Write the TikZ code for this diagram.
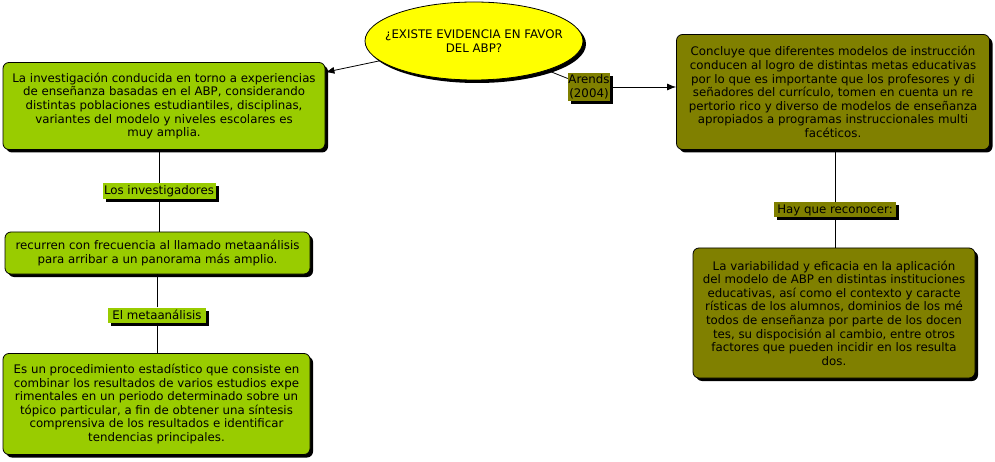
\documentclass[tikz,border=0pt]{standalone}
\usepackage{fontspec}
\setmainfont{DejaVu Sans}
\usetikzlibrary{arrows.meta,shapes.geometric,shadows}
\definecolor{limegreen}{HTML}{99CC00}
\definecolor{olivebrown}{HTML}{808000}
\definecolor{lemon}{HTML}{FFFF00}

\begin{document}
\begin{tikzpicture}[x=1pt, y=-1pt,
  shade/.style={drop shadow={shadow xshift=3pt, shadow yshift=-3pt, fill=black, opacity=1}},
  box/.style={draw, line width=0.8pt, rounded corners=6pt, align=center, inner sep=0pt, font=\fontsize{11.8}{13.6}\selectfont, shade},
  tag/.style={inner sep=0pt, align=center, font=\fontsize{11.8}{13.6}\selectfont, shade},
  arr/.style={-{Latex[length=9pt,width=7pt]}, line width=0.8pt},
  link/.style={line width=0.8pt}
]
\useasboundingbox (0,0) rectangle (995,462);

% question
\node[ellipse, draw, line width=0.8pt, fill=lemon, minimum width=218pt, minimum height=78pt, inner sep=0pt, shade,
  label={[align=center, font=\fontsize{11.8}{13.6}\selectfont]center:¿EXISTE EVIDENCIA EN FAVOR\\DEL ABP?}] (q) at (474,41) {};

% left column
\node[box, fill=limegreen, minimum width=322pt, minimum height=87pt] (inv) at (164,106) {La investigación conducida en torno a experiencias\\de enseñanza basadas en el ABP, considerando\\distintas poblaciones estudiantiles, disciplinas,\\variantes del modelo y niveles escolares es\\muy amplia.};
\node[tag, fill=limegreen, minimum width=113pt, minimum height=16pt] (invtag) at (159,191) {Los investigadores};
\node[box, fill=limegreen, minimum width=305pt, minimum height=42pt] (recur) at (157.5,253) {recurren con frecuencia al llamado metaanálisis\\para arribar a un panorama más amplio.};
\node[tag, fill=limegreen, minimum width=98pt, minimum height=15pt] (metatag) at (157,315) {El metaanálisis};
\node[box, fill=limegreen, minimum width=307pt, minimum height=101pt] (proc) at (156.5,404) {Es un procedimiento estadístico que consiste en\\combinar los resultados de varios estudios expe\\rimentales en un periodo determinado sobre un\\tópico particular, a fin de obtener una síntesis\\comprensiva de los resultados e identificar\\tendencias principales.};

% right column
\node[tag, fill=olivebrown, minimum width=42pt, minimum height=28pt] (arends) at (589,87) {Arends\\(2004)};
\node[box, fill=olivebrown, minimum width=313pt, minimum height=115pt] (concl) at (833,92) {Concluye que diferentes modelos de instrucción\\conducen al logro de distintas metas educativas\\por lo que es importante que los profesores y di\\señadores del currículo, tomen en cuenta un re\\pertorio rico y diverso de modelos de enseñanza\\apropiados a programas instruccionales multi\\facéticos.};
\node[tag, fill=olivebrown, minimum width=122pt, minimum height=15pt] (haytag) at (835,210) {Hay que reconocer:};
\node[box, fill=olivebrown, minimum width=282pt, minimum height=130pt] (varia) at (834,313) {La variabilidad y eficacia en la aplicación\\del modelo de ABP en distintas instituciones\\educativas, así como el contexto y caracte\\rísticas de los alumnos, dominios de los mé\\todos de enseñanza por parte de los docen\\tes, su dispocisión al cambio, entre otros\\factores que pueden incidir en los resulta\\dos.};

% connectors
\draw[arr] (q) -- (inv);
\draw[link] (q) -- (arends);
\draw[arr] (arends) -- (arends -| concl.west);
\draw[link] (invtag.north) -- (invtag.north |- inv.south);
\draw[link] (invtag.south) -- (invtag.south |- recur.north);
\draw[link] (metatag.north) -- (metatag.north |- recur.south);
\draw[link] (metatag.south) -- (metatag.south |- proc.north);
\draw[link] (haytag.north) -- (haytag.north |- concl.south);
\draw[link] (haytag.south) -- (haytag.south |- varia.north);

\end{tikzpicture}
\end{document}
